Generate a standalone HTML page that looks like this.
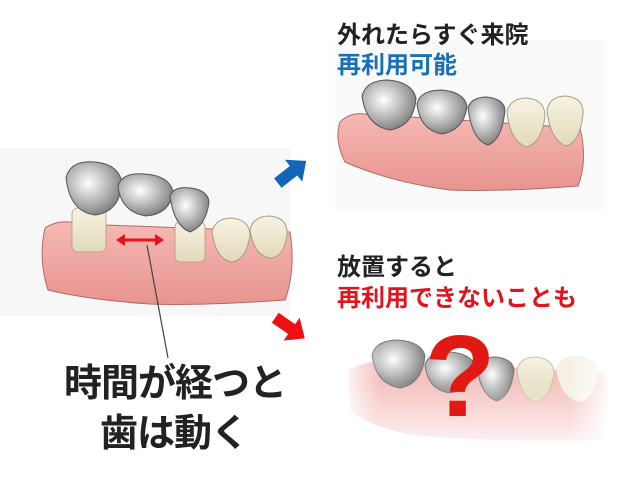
<!DOCTYPE html>
<html><head><meta charset="utf-8"><style>
html,body{margin:0;padding:0;background:#fff;}
body{width:640px;height:480px;overflow:hidden;position:relative;}
.t{position:absolute;font-family:"Liberation Sans","Noto Sans CJK JP",sans-serif;font-weight:bold;white-space:nowrap;}
</style></head><body>
<svg width="640" height="480" style="position:absolute;left:0;top:0">
<defs>
<linearGradient id="gum" x1="0" y1="0" x2="0" y2="1"><stop offset="0" stop-color="#f6b8b4"/><stop offset="1" stop-color="#e8948f"/></linearGradient>
<radialGradient id="metal" cx="0.4" cy="0.4" r="0.7"><stop offset="0" stop-color="#ffffff"/><stop offset="0.5" stop-color="#b8b8b8"/><stop offset="1" stop-color="#707070"/></radialGradient>
<linearGradient id="tooth" x1="0" y1="0" x2="0" y2="1"><stop offset="0" stop-color="#f7f3e2"/><stop offset="1" stop-color="#e2d9bb"/></linearGradient>
<linearGradient id="fade" x1="0" y1="0" x2="1" y2="0"><stop offset="0" stop-color="#fff" stop-opacity="1"/><stop offset="0.15" stop-color="#fff" stop-opacity="0"/><stop offset="0.85" stop-color="#fff" stop-opacity="0"/><stop offset="1" stop-color="#fff" stop-opacity="1"/></linearGradient>
<linearGradient id="fadev" x1="0" y1="0" x2="0" y2="1"><stop offset="0.4" stop-color="#fff" stop-opacity="0"/><stop offset="1" stop-color="#fff" stop-opacity="1"/></linearGradient>
</defs>
<rect x="0" y="148" width="290" height="168" fill="#f7f7f7"/>
<rect x="335" y="40" width="270" height="170" fill="#fafafa"/>
<!-- left illustration -->
<path d="M45 228 Q60 218 80 224 L290 232 Q296 270 285 300 Q200 306 150 304 Q90 300 48 290 Q38 260 45 228Z" fill="url(#gum)" stroke="#b06a68" stroke-width="1"/>
<rect x="72" y="208" width="34" height="44" rx="6" fill="url(#tooth)" stroke="#a89e80" stroke-width="0.8"/>
<rect x="175" y="222" width="30" height="40" rx="5" fill="url(#tooth)" stroke="#a89e80" stroke-width="0.8"/>
<path d="M212 232 Q215 218 232 218 Q250 220 250 236 Q246 260 232 262 Q216 260 212 232Z" fill="url(#tooth)" stroke="#a89e80"/>
<path d="M250 230 Q253 216 270 216 Q288 218 287 234 Q284 258 270 258 Q254 256 250 230Z" fill="url(#tooth)" stroke="#a89e80"/>
<path d="M66 178 Q70 160 95 162 Q118 164 122 182 Q120 212 95 215 Q70 212 66 178Z" fill="url(#metal)" stroke="#555"/>
<path d="M118 186 Q122 172 145 174 Q170 176 173 192 Q170 214 146 216 Q121 212 118 186Z" fill="url(#metal)" stroke="#555"/>
<path d="M170 196 Q174 186 190 188 Q208 190 209 202 Q206 226 190 232 Q174 226 170 196Z" fill="url(#metal)" stroke="#555"/>
<line x1="121" y1="240" x2="159" y2="240" stroke="#e6141a" stroke-width="3"/>
<path d="M116 240 L125 234 L125 246Z M164 240 L155 234 L155 246Z" fill="#e6141a"/>
<line x1="147" y1="245" x2="168" y2="358" stroke="#444" stroke-width="1.2"/>
<!-- arrows -->
<g transform="translate(292,172) rotate(-38)"><path d="M-18 -6 L2 -6 L2 -14 L18 0 L2 14 L2 6 L-18 6Z" fill="#1166b8"/></g>
<g transform="translate(290,328) rotate(35)"><path d="M-18 -6 L2 -6 L2 -14 L18 0 L2 14 L2 6 L-18 6Z" fill="#ee1111"/></g>
<!-- upper right illustration -->
<path d="M340 122 Q350 112 365 114 L580 128 Q588 160 578 186 Q500 192 450 190 Q390 182 345 162 Q334 140 340 122Z" fill="url(#gum)" stroke="#b06a68"/>
<path d="M507 112 Q510 98 527 98 Q545 100 545 116 Q542 142 527 147 Q510 142 507 112Z" fill="url(#tooth)" stroke="#a89e80"/>
<path d="M547 110 Q550 96 566 96 Q584 98 583 114 Q580 142 566 146 Q550 140 547 110Z" fill="url(#tooth)" stroke="#a89e80"/>
<path d="M362 96 Q366 80 388 80 Q412 82 416 98 Q414 126 390 130 Q366 126 362 96Z" fill="url(#metal)" stroke="#555"/>
<path d="M417 104 Q420 90 442 90 Q464 92 467 106 Q464 130 442 134 Q420 130 417 104Z" fill="url(#metal)" stroke="#555"/>
<path d="M468 108 Q471 97 487 97 Q504 99 505 110 Q502 140 488 145 Q472 140 468 108Z" fill="url(#metal)" stroke="#555"/>
<!-- lower right illustration -->
<path d="M348 370 Q370 358 400 362 L610 372 L610 440 Q500 442 420 436 Q370 428 350 410Z" fill="#f4c2c0"/>
<path d="M517 370 Q520 357 536 357 Q554 359 554 374 Q550 398 536 402 Q520 398 517 370Z" fill="url(#tooth)" stroke="#c9c0a4"/>
<path d="M556 368 Q560 356 578 356 Q598 358 598 372 Q595 398 580 402 Q560 398 556 368Z" fill="#f4f0e4"/>
<path d="M372 355 Q376 340 398 340 Q422 342 425 356 Q422 384 400 388 Q376 384 372 355Z" fill="url(#metal)" stroke="#777"/>
<path d="M425 365 Q428 352 450 352 Q472 354 475 366 Q472 390 450 393 Q428 390 425 365Z" fill="url(#metal)" stroke="#777"/>
<path d="M477 368 Q480 357 496 357 Q513 359 514 370 Q511 396 497 401 Q481 396 477 368Z" fill="url(#metal)" stroke="#777"/>
<rect x="340" y="330" width="270" height="130" fill="url(#fade)"/>
<rect x="340" y="330" width="270" height="130" fill="url(#fadev)"/>
<text x="460" y="416" text-anchor="middle" font-family="Liberation Sans,sans-serif" font-weight="bold" font-size="116" fill="#e01a12">?</text>
</svg>
<div class="t" style="left:337px;top:15px;font-size:24px;color:#222;">外れたらすぐ来院</div>
<div class="t" style="left:337px;top:45px;font-size:24px;color:#1a6fb5;">再利用可能</div>
<div class="t" style="left:337px;top:247px;font-size:24px;color:#222;">放置すると</div>
<div class="t" style="left:337px;top:278px;font-size:24px;color:#e0141e;">再利用できないことも</div>
<div class="t" style="left:64px;top:352px;font-size:38px;color:#222;letter-spacing:-1px;">時間が経つと</div>
<div class="t" style="left:100px;top:402px;font-size:38px;color:#222;letter-spacing:-1px;">歯は動く</div>
</body></html>
